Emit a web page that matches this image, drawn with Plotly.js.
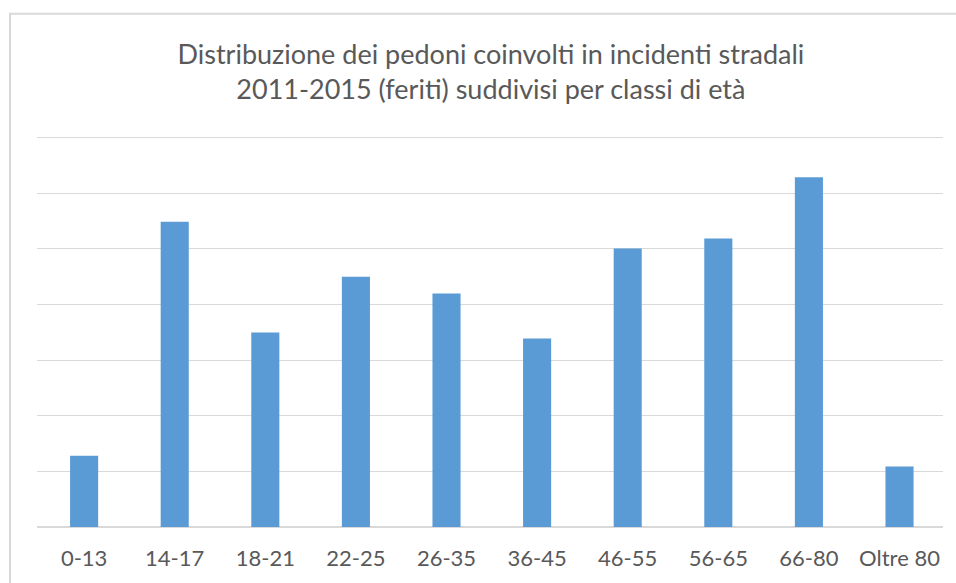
<!DOCTYPE html>
<html>
<head>
<meta charset="utf-8">
<script src="https://cdn.plot.ly/plotly-3.0.1.min.js"></script>
<style>
html,body{margin:0;padding:0;background:#fff;}
#chart{width:956px;height:583px;}
</style>
</head>
<body>
<div id="chart"></div>
<script>
// Age classes (x categories)
const categories = ["0-13","14-17","18-21","22-25","26-35","36-45","46-55","56-65","66-80","Oltre 80"];
// Injured pedestrians, in gridline units (axis has no value labels)
const values = [1.28, 5.49, 3.50, 4.50, 4.20, 3.39, 5.01, 5.19, 6.29, 1.09];

const titleText = "Distribuzione dei pedoni coinvolti in incidenti stradali<br>2011-2015 (feriti) suddivisi per classi di età";

const trace = {
  type: "bar",
  x: categories,
  y: values,
  marker: {color: "#5b9bd5"},
  hoverinfo: "x+y"
};

const layout = {
  width: 956,
  height: 583,
  margin: {l: 37, r: 13, t: 135, b: 56},
  paper_bgcolor: "#ffffff",
  plot_bgcolor: "#ffffff",
  bargap: 0.69,
  showlegend: false,
  title: {
    text: titleText,
    x: 0.5135,
    xanchor: "center",
    y: 0.891,
    yanchor: "top",
    font: {family: "Lato, sans-serif", size: 27, color: "#595959"}
  },
  xaxis: {
    type: "category",
    range: [-0.52, 9.48],
    showgrid: false,
    showline: false,
    ticks: "",
    ticklabelstandoff: 16,
    tickfont: {family: "Lato, sans-serif", size: 22, color: "#595959"}
  },
  yaxis: {
    range: [0, 7.05],
    dtick: 1,
    showticklabels: false,
    ticks: "",
    showgrid: true,
    gridcolor: "#d9d9d9",
    gridwidth: 1,
    zeroline: true,
    zerolinecolor: "#d9d9d9",
    zerolinewidth: 1.5,
    showline: false
  },
  shapes: [{
    type: "path",
    xref: "paper",
    yref: "paper",
    path: "M -0.0298,-0.15 L -0.0298,1.309 L 1.02,1.309",
    line: {color: "#d9d9d9", width: 2}
  }]
};

Plotly.newPlot("chart", [trace], layout, {displayModeBar: false, staticPlot: true});
</script>
</body>
</html>
